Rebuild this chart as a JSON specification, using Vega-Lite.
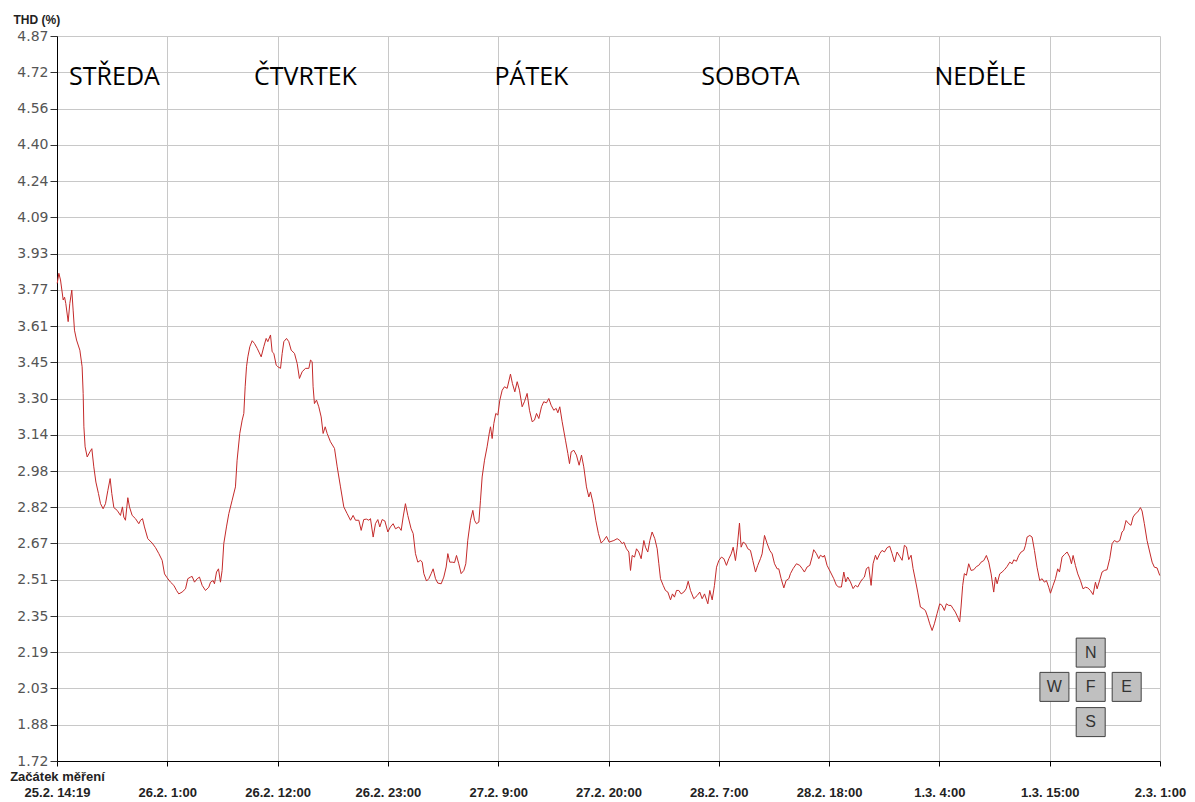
{
  "$schema": "https://vega.github.io/schema/vega-lite/v6.json",
  "width": 1103,
  "height": 725,
  "autosize": {"type": "none"},
  "padding": {"left": 57, "top": 36, "right": 35, "bottom": 41},
  "background": "white",
  "config": {"view": {"stroke": null}},
  "datasets": {
    "thd": [
      {"h":0.02,"v":3.795},{"h":0.18,"v":3.839},{"h":0.34,"v":3.810},{"h":0.60,"v":3.723},{"h":0.73,"v":3.735},{"h":0.85,"v":3.708},{"h":1.08,"v":3.629},{"h":1.24,"v":3.708},{"h":1.43,"v":3.766},{"h":1.56,"v":3.679},{"h":1.69,"v":3.592},{"h":1.89,"v":3.549},{"h":2.21,"v":3.505},{"h":2.43,"v":3.433},{"h":2.53,"v":3.317},{"h":2.60,"v":3.172},{"h":2.72,"v":3.085},{"h":2.92,"v":3.041},{"h":3.18,"v":3.063},{"h":3.37,"v":3.077},{"h":3.56,"v":2.998},{"h":3.76,"v":2.932},{"h":4.01,"v":2.882},{"h":4.21,"v":2.838},{"h":4.46,"v":2.816},{"h":4.69,"v":2.838},{"h":4.92,"v":2.896},{"h":5.14,"v":2.947},{"h":5.30,"v":2.882},{"h":5.50,"v":2.821},{"h":5.82,"v":2.809},{"h":6.14,"v":2.787},{"h":6.33,"v":2.824},{"h":6.46,"v":2.780},{"h":6.62,"v":2.766},{"h":6.85,"v":2.864},{"h":7.01,"v":2.824},{"h":7.27,"v":2.787},{"h":7.59,"v":2.773},{"h":7.91,"v":2.751},{"h":8.08,"v":2.766},{"h":8.27,"v":2.773},{"h":8.46,"v":2.737},{"h":8.78,"v":2.686},{"h":9.20,"v":2.667},{"h":9.53,"v":2.647},{"h":9.85,"v":2.621},{"h":10.17,"v":2.592},{"h":10.40,"v":2.533},{"h":10.65,"v":2.516},{"h":10.98,"v":2.497},{"h":11.30,"v":2.483},{"h":11.56,"v":2.461},{"h":11.78,"v":2.446},{"h":12.10,"v":2.454},{"h":12.43,"v":2.468},{"h":12.65,"v":2.512},{"h":12.91,"v":2.519},{"h":13.07,"v":2.522},{"h":13.30,"v":2.497},{"h":13.56,"v":2.512},{"h":13.78,"v":2.519},{"h":14.04,"v":2.483},{"h":14.36,"v":2.461},{"h":14.68,"v":2.475},{"h":14.85,"v":2.497},{"h":15.10,"v":2.504},{"h":15.23,"v":2.490},{"h":15.43,"v":2.541},{"h":15.62,"v":2.555},{"h":15.81,"v":2.497},{"h":15.97,"v":2.548},{"h":16.13,"v":2.664},{"h":16.39,"v":2.737},{"h":16.62,"v":2.795},{"h":16.94,"v":2.853},{"h":17.26,"v":2.911},
      {"h":17.42,"v":3.027},{"h":17.68,"v":3.143},{"h":17.91,"v":3.201},{"h":18.07,"v":3.230},{"h":18.20,"v":3.346},{"h":18.33,"v":3.433},{"h":18.46,"v":3.476},{"h":18.65,"v":3.520},{"h":18.88,"v":3.546},{"h":19.10,"v":3.534},{"h":19.36,"v":3.513},{"h":19.75,"v":3.476},{"h":20.00,"v":3.520},{"h":20.23,"v":3.556},{"h":20.39,"v":3.542},{"h":20.65,"v":3.571},{"h":20.81,"v":3.498},{"h":20.97,"v":3.491},{"h":21.20,"v":3.440},{"h":21.36,"v":3.433},{"h":21.62,"v":3.426},{"h":21.78,"v":3.491},{"h":21.94,"v":3.542},{"h":22.20,"v":3.556},{"h":22.42,"v":3.542},{"h":22.65,"v":3.505},{"h":22.97,"v":3.491},{"h":23.23,"v":3.447},{"h":23.45,"v":3.382},{"h":23.71,"v":3.411},{"h":24.03,"v":3.426},{"h":24.36,"v":3.426},{"h":24.52,"v":3.462},{"h":24.68,"v":3.455},{"h":24.77,"v":3.346},{"h":24.90,"v":3.273},{"h":25.10,"v":3.288},{"h":25.32,"v":3.259},{"h":25.55,"v":3.215},{"h":25.74,"v":3.143},{"h":25.94,"v":3.172},{"h":26.13,"v":3.143},{"h":26.45,"v":3.107},{"h":26.84,"v":3.078},{"h":27.10,"v":2.998},{"h":27.42,"v":2.911},{"h":27.74,"v":2.824},{"h":28.06,"v":2.795},{"h":28.39,"v":2.766},{"h":28.64,"v":2.787},{"h":28.87,"v":2.766},{"h":29.19,"v":2.766},{"h":29.42,"v":2.722},{"h":29.67,"v":2.769},{"h":29.93,"v":2.771},{"h":30.16,"v":2.766},{"h":30.32,"v":2.773},{"h":30.58,"v":2.693},{"h":30.80,"v":2.751},{"h":31.03,"v":2.769},{"h":31.22,"v":2.737},{"h":31.45,"v":2.769},{"h":31.71,"v":2.763},{"h":32.00,"v":2.715},{"h":32.25,"v":2.737},{"h":32.51,"v":2.751},{"h":32.74,"v":2.729},{"h":33.06,"v":2.737},{"h":33.29,"v":2.722},{"h":33.48,"v":2.780},{"h":33.70,"v":2.838},{"h":33.93,"v":2.787},{"h":34.25,"v":2.729},
      {"h":34.45,"v":2.708},{"h":34.67,"v":2.621},{"h":34.90,"v":2.584},{"h":35.16,"v":2.592},{"h":35.32,"v":2.584},{"h":35.48,"v":2.534},{"h":35.74,"v":2.502},{"h":35.96,"v":2.512},{"h":36.19,"v":2.534},{"h":36.38,"v":2.555},{"h":36.61,"v":2.512},{"h":36.83,"v":2.493},{"h":37.16,"v":2.490},{"h":37.41,"v":2.519},{"h":37.64,"v":2.563},{"h":37.80,"v":2.621},{"h":37.99,"v":2.584},{"h":38.22,"v":2.584},{"h":38.45,"v":2.582},{"h":38.64,"v":2.613},{"h":38.86,"v":2.577},{"h":39.09,"v":2.534},{"h":39.35,"v":2.548},{"h":39.54,"v":2.577},{"h":39.73,"v":2.679},{"h":39.99,"v":2.766},{"h":40.22,"v":2.809},{"h":40.38,"v":2.766},{"h":40.57,"v":2.751},{"h":40.80,"v":2.758},{"h":40.96,"v":2.853},{"h":41.12,"v":2.954},{"h":41.35,"v":3.027},{"h":41.60,"v":3.085},{"h":41.83,"v":3.150},{"h":41.93,"v":3.172},{"h":42.09,"v":3.121},{"h":42.25,"v":3.186},{"h":42.44,"v":3.230},{"h":42.64,"v":3.223},{"h":42.83,"v":3.288},{"h":43.06,"v":3.331},{"h":43.28,"v":3.346},{"h":43.54,"v":3.339},{"h":43.86,"v":3.401},{"h":44.05,"v":3.360},{"h":44.28,"v":3.324},{"h":44.51,"v":3.368},{"h":44.73,"v":3.331},{"h":44.99,"v":3.259},{"h":45.21,"v":3.281},{"h":45.47,"v":3.317},{"h":45.70,"v":3.244},{"h":45.96,"v":3.194},{"h":46.18,"v":3.201},{"h":46.38,"v":3.230},{"h":46.60,"v":3.208},{"h":46.86,"v":3.259},{"h":47.08,"v":3.281},{"h":47.34,"v":3.276},{"h":47.57,"v":3.295},{"h":47.79,"v":3.266},{"h":48.05,"v":3.244},{"h":48.28,"v":3.252},{"h":48.44,"v":3.233},{"h":48.63,"v":3.259},{"h":48.86,"v":3.194},{"h":49.18,"v":3.114},{"h":49.41,"v":3.056},{"h":49.57,"v":3.012},{"h":49.73,"v":3.063},{"h":49.99,"v":3.070},{"h":50.24,"v":3.049},{"h":50.50,"v":3.005},{"h":50.73,"v":3.049},{"h":50.95,"v":2.998},{"h":51.21,"v":2.911},{"h":51.44,"v":2.867},{"h":51.60,"v":2.889},{"h":51.86,"v":2.838},{"h":52.11,"v":2.766},{"h":52.37,"v":2.708},{"h":52.63,"v":2.667},{"h":52.89,"v":2.679},{"h":53.15,"v":2.696},{"h":53.40,"v":2.671},
      {"h":53.86,"v":2.678},{"h":54.18,"v":2.686},{"h":54.44,"v":2.678},{"h":54.66,"v":2.664},{"h":54.82,"v":2.671},{"h":55.08,"v":2.642},{"h":55.31,"v":2.628},{"h":55.47,"v":2.548},{"h":55.63,"v":2.613},{"h":55.86,"v":2.606},{"h":56.05,"v":2.642},{"h":56.27,"v":2.628},{"h":56.50,"v":2.599},{"h":56.76,"v":2.678},{"h":56.92,"v":2.649},{"h":57.14,"v":2.628},{"h":57.34,"v":2.678},{"h":57.56,"v":2.715},{"h":57.82,"v":2.686},{"h":58.05,"v":2.642},{"h":58.21,"v":2.577},{"h":58.37,"v":2.512},{"h":58.63,"v":2.483},{"h":58.85,"v":2.461},{"h":59.08,"v":2.454},{"h":59.34,"v":2.420},{"h":59.53,"v":2.446},{"h":59.72,"v":2.432},{"h":59.92,"v":2.461},{"h":60.14,"v":2.461},{"h":60.37,"v":2.446},{"h":60.63,"v":2.454},{"h":60.85,"v":2.468},{"h":61.05,"v":2.501},{"h":61.27,"v":2.461},{"h":61.59,"v":2.425},{"h":61.92,"v":2.439},{"h":62.17,"v":2.454},{"h":62.40,"v":2.425},{"h":62.63,"v":2.446},{"h":62.95,"v":2.403},{"h":63.14,"v":2.461},{"h":63.37,"v":2.420},{"h":63.59,"v":2.483},{"h":63.79,"v":2.562},{"h":64.01,"v":2.591},{"h":64.27,"v":2.606},{"h":64.50,"v":2.599},{"h":64.75,"v":2.570},{"h":64.98,"v":2.599},{"h":65.21,"v":2.620},{"h":65.40,"v":2.649},{"h":65.62,"v":2.591},{"h":65.79,"v":2.649},{"h":66.01,"v":2.754},{"h":66.17,"v":2.649},{"h":66.37,"v":2.671},{"h":66.59,"v":2.664},{"h":66.82,"v":2.642},{"h":67.07,"v":2.635},{"h":67.30,"v":2.591},{"h":67.56,"v":2.541},{"h":67.78,"v":2.570},{"h":68.04,"v":2.599},{"h":68.20,"v":2.620},{"h":68.43,"v":2.700},{"h":68.69,"v":2.664},{"h":68.94,"v":2.635},{"h":69.17,"v":2.620},{"h":69.40,"v":2.577},{"h":69.65,"v":2.555},{"h":69.81,"v":2.555},{"h":70.04,"v":2.512},{"h":70.30,"v":2.472},{"h":70.52,"v":2.504},{"h":70.78,"v":2.512},
      {"h":70.94,"v":2.534},{"h":71.20,"v":2.556},{"h":71.52,"v":2.577},{"h":71.84,"v":2.570},{"h":72.07,"v":2.556},{"h":72.29,"v":2.541},{"h":72.55,"v":2.563},{"h":72.81,"v":2.570},{"h":73.03,"v":2.606},{"h":73.19,"v":2.638},{"h":73.45,"v":2.621},{"h":73.68,"v":2.599},{"h":73.84,"v":2.614},{"h":74.10,"v":2.606},{"h":74.23,"v":2.614},{"h":74.48,"v":2.570},{"h":74.81,"v":2.541},{"h":75.13,"v":2.512},{"h":75.39,"v":2.483},{"h":75.61,"v":2.476},{"h":75.87,"v":2.476},{"h":76.10,"v":2.541},{"h":76.29,"v":2.498},{"h":76.48,"v":2.519},{"h":76.74,"v":2.498},{"h":77.00,"v":2.469},{"h":77.22,"v":2.483},{"h":77.45,"v":2.476},{"h":77.71,"v":2.498},{"h":77.93,"v":2.512},{"h":78.09,"v":2.519},{"h":78.29,"v":2.556},{"h":78.51,"v":2.563},{"h":78.74,"v":2.483},{"h":78.93,"v":2.577},{"h":79.16,"v":2.614},{"h":79.32,"v":2.595},{"h":79.58,"v":2.621},{"h":79.80,"v":2.635},{"h":80.03,"v":2.628},{"h":80.29,"v":2.647},{"h":80.54,"v":2.653},{"h":80.77,"v":2.621},{"h":81.00,"v":2.585},{"h":81.25,"v":2.628},{"h":81.51,"v":2.609},{"h":81.74,"v":2.592},{"h":81.96,"v":2.657},{"h":82.16,"v":2.650},{"h":82.38,"v":2.595},{"h":82.61,"v":2.614},{"h":82.80,"v":2.556},{"h":83.03,"v":2.505},{"h":83.25,"v":2.454},{"h":83.51,"v":2.389},{"h":83.77,"v":2.382},{"h":83.99,"v":2.374},{"h":84.22,"v":2.345},{"h":84.41,"v":2.316},{"h":84.64,"v":2.287},{"h":84.86,"v":2.316},{"h":85.12,"v":2.360},{"h":85.38,"v":2.403},{"h":85.60,"v":2.396},{"h":85.83,"v":2.374},{"h":86.02,"v":2.403},{"h":86.25,"v":2.396},{"h":86.47,"v":2.396},{"h":86.67,"v":2.382},{"h":86.89,"v":2.367},{"h":87.12,"v":2.345},{"h":87.31,"v":2.324},{"h":87.44,"v":2.389},{"h":87.60,"v":2.483},{"h":87.76,"v":2.534},{"h":87.96,"v":2.527},{"h":88.18,"v":2.577},
      {"h":88.41,"v":2.548},{"h":88.67,"v":2.551},{"h":88.93,"v":2.565},{"h":89.15,"v":2.570},{"h":89.38,"v":2.584},{"h":89.64,"v":2.591},{"h":89.89,"v":2.613},{"h":90.12,"v":2.584},{"h":90.35,"v":2.533},{"h":90.60,"v":2.454},{"h":90.77,"v":2.519},{"h":90.93,"v":2.490},{"h":91.18,"v":2.533},{"h":91.41,"v":2.541},{"h":91.64,"v":2.551},{"h":91.89,"v":2.565},{"h":92.15,"v":2.584},{"h":92.38,"v":2.577},{"h":92.54,"v":2.594},{"h":92.80,"v":2.588},{"h":93.02,"v":2.613},{"h":93.25,"v":2.628},{"h":93.51,"v":2.635},{"h":93.67,"v":2.657},{"h":93.83,"v":2.693},{"h":94.09,"v":2.700},{"h":94.31,"v":2.693},{"h":94.54,"v":2.635},{"h":94.79,"v":2.562},{"h":95.05,"v":2.504},{"h":95.28,"v":2.512},{"h":95.50,"v":2.497},{"h":95.70,"v":2.504},{"h":95.92,"v":2.475},{"h":96.09,"v":2.449},{"h":96.34,"v":2.483},{"h":96.57,"v":2.512},{"h":96.79,"v":2.555},{"h":96.96,"v":2.541},{"h":97.21,"v":2.606},{"h":97.44,"v":2.617},{"h":97.70,"v":2.628},{"h":97.95,"v":2.606},{"h":98.12,"v":2.577},{"h":98.28,"v":2.613},{"h":98.50,"v":2.570},{"h":98.73,"v":2.533},{"h":98.99,"v":2.504},{"h":99.24,"v":2.468},{"h":99.47,"v":2.475},{"h":99.70,"v":2.472},{"h":99.95,"v":2.461},{"h":100.21,"v":2.443},{"h":100.44,"v":2.497},{"h":100.60,"v":2.468},{"h":100.86,"v":2.507},{"h":101.08,"v":2.541},{"h":101.31,"v":2.548},{"h":101.56,"v":2.551},{"h":101.82,"v":2.599},{"h":102.05,"v":2.664},{"h":102.27,"v":2.678},{"h":102.53,"v":2.671},{"h":102.79,"v":2.678},{"h":103.01,"v":2.715},{"h":103.17,"v":2.722},{"h":103.40,"v":2.765},{"h":103.66,"v":2.751},{"h":103.88,"v":2.744},{"h":104.08,"v":2.780},{"h":104.30,"v":2.794},{"h":104.53,"v":2.802},{"h":104.79,"v":2.821},{"h":104.95,"v":2.806},{"h":105.17,"v":2.751},{"h":105.43,"v":2.678},{"h":105.69,"v":2.628},{"h":105.92,"v":2.584},{"h":106.14,"v":2.562},{"h":106.40,"v":2.559},{"h":106.66,"v":2.526}
    ],
    "days": [
      {"day": "STŘEDA", "h": 5.56, "v": 4.693},
      {"day": "ČTVRTEK", "h": 24.03, "v": 4.693},
      {"day": "PÁTEK", "h": 45.89, "v": 4.693},
      {"day": "SOBOTA", "h": 67.07, "v": 4.693},
      {"day": "NEDĚLE", "h": 89.31, "v": 4.693}
    ],
    "nav": [
      {"key": "N", "h": 99.98, "v": 2.191},
      {"key": "W", "h": 96.47, "v": 2.042},
      {"key": "F", "h": 99.98, "v": 2.042},
      {"key": "E", "h": 103.46, "v": 2.042},
      {"key": "S", "h": 99.98, "v": 1.889}
    ]
  },
  "encoding": {
    "x": {
      "field": "h",
      "type": "quantitative",
      "scale": {"domain": [0, 106.683], "nice": false, "zero": false},
      "axis": {
        "title": null,
        "values": [0, 10.6683, 21.3366, 32.0049, 42.6732, 53.3415, 64.0098, 74.6781, 85.3464, 96.0147, 106.683],
        "labelExpr": "[['Začátek měření','25.2. 14:19'],[' ','26.2. 1:00'],[' ','26.2. 12:00'],[' ','26.2. 23:00'],[' ','27.2. 9:00'],[' ','27.2. 20:00'],[' ','28.2. 7:00'],[' ','28.2. 18:00'],[' ','1.3. 4:00'],[' ','1.3. 15:00'],[' ','2.3. 1:00']][round(datum.value/10.6683)]",
        "grid": true,
        "gridColor": "#c8c8c8",
        "gridWidth": 1,
        "domainColor": "#000000",
        "tickColor": "#000000",
        "tickSize": 5,
        "labelFont": "Liberation Sans",
        "labelFontSize": 13,
        "labelFontWeight": "bold",
        "labelColor": "#222222",
        "labelPadding": 4,
        "labelLineHeight": 16.5,
        "labelOverlap": false,
        "labelFlush": false,
        "labelBound": false,
        "labelAngle": 0,
        "labelAlign": "center",
        "labelBaseline": "top"
      }
    },
    "y": {
      "field": "v",
      "type": "quantitative",
      "scale": {"domain": [1.72, 4.87], "nice": false, "zero": false},
      "axis": {
        "title": "THD (%)",
        "titleAngle": 0,
        "titleAlign": "left",
        "titleBaseline": "alphabetic",
        "titleX": -44,
        "titleY": -13,
        "titleFont": "Liberation Sans",
        "titleFontSize": 12,
        "titleFontWeight": "bold",
        "titleColor": "#222222",
        "values": [1.72, 1.8775, 2.035, 2.1925, 2.35, 2.5075, 2.665, 2.8225, 2.98, 3.1375, 3.295, 3.4525, 3.61, 3.7675, 3.925, 4.0825, 4.24, 4.3975, 4.555, 4.7125, 4.87],
        "labelExpr": "['1.72','1.88','2.03','2.19','2.35','2.51','2.67','2.82','2.98','3.14','3.30','3.45','3.61','3.77','3.93','4.09','4.24','4.40','4.56','4.72','4.87'][round((datum.value-1.72)/0.1575)]",
        "grid": true,
        "gridColor": "#c8c8c8",
        "gridWidth": 1,
        "domainColor": "#000000",
        "tickColor": "#333333",
        "tickSize": 7,
        "labelPadding": 2,
        "labelFont": "DejaVu Sans",
        "labelFontSize": 14,
        "labelColor": "#555555",
        "labelOverlap": false,
        "labelFlush": false,
        "labelBound": false
      }
    }
  },
  "layer": [
    {
      "data": {"name": "thd"},
      "mark": {"type": "line", "color": "#c42a2a", "strokeWidth": 1}
    },
    {
      "data": {"name": "days"},
      "mark": {"type": "text", "font": "Open Sans", "fontSize": 25, "color": "#000000", "align": "center", "baseline": "middle"},
      "encoding": {"text": {"field": "day", "type": "nominal"}}
    },
    {
      "data": {"name": "nav"},
      "mark": {"type": "point", "shape": "square", "filled": true, "size": 841, "fill": "#c0c0c0", "stroke": "#404040", "strokeWidth": 1, "opacity": 1}
    },
    {
      "data": {"name": "nav"},
      "mark": {"type": "text", "font": "Liberation Sans", "fontSize": 16, "color": "#333333", "align": "center", "baseline": "middle"},
      "encoding": {"text": {"field": "key", "type": "nominal"}}
    }
  ]
}
